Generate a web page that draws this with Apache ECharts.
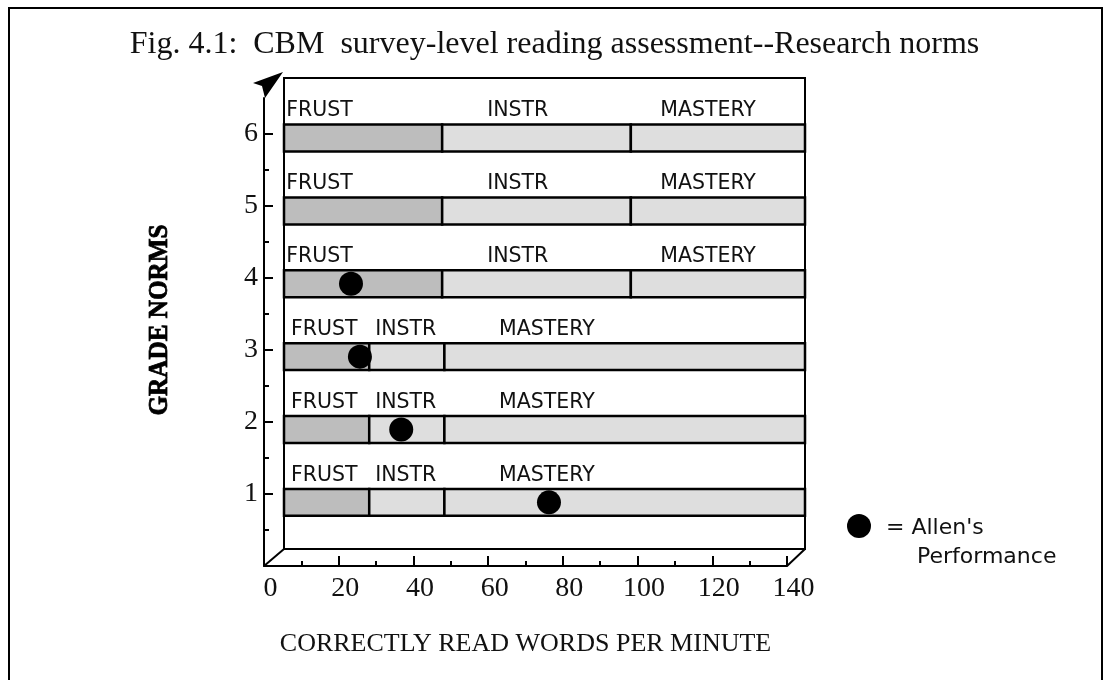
<!DOCTYPE html>
<html>
<head>
<meta charset="utf-8">
<script src="https://cdn.jsdelivr.net/npm/echarts@6/dist/echarts.min.js"></script>
</head>
<body style="margin:0;background:#fff">
<div id="main" style="width:1109px;height:680px;"></div>
<script>
// grade levels (vertical)
var grades = [1, 2, 3, 4, 5, 6];
// words per minute where each band ends
var frustEnd = [22.9, 22.9, 22.9, 42.5, 42.5, 42.5];
var instrEnd = [43.1, 43.1, 43.1, 93.2, 93.2, 93.2];
var wpmMax = 140;
var bandNames = ['FRUST', 'INSTR', 'MASTERY'];
// Allen's performance
var allenGrade = [1, 2, 3, 4];
var allenWpm = [71.2, 31.5, 20.4, 18.0];
var gradeTicks = [1, 2, 3, 4, 5, 6];
var halfTicks = [0.5, 1.5, 2.5, 3.5, 4.5, 5.5];

// layout: where the band names sit (in wpm units), lower grades / upper grades
var labelAnchor = { lower: [1.9, 24.5, 57.8], upper: [0.6, 54.6, 101.1] };
var bandFill = ['#bdbdbd', '#dedede', '#dedede'];
var serif = '"Liberation Serif", serif';
var sans = '"DejaVu Sans", sans-serif';

var chart = echarts.init(document.getElementById('main'));

var barData = grades.map(function (g, i) {
	return [g, frustEnd[i], instrEnd[i], wpmMax];
});
var allenData = allenGrade.map(function (g, i) {
	return [allenWpm[i], g];
});

var option = {
	backgroundColor: '#fff',
	animation: false,
	title: {
		text: 'Fig. 4.1:  CBM  survey-level reading assessment--Research norms',
		left: 'center',
		top: 24,
		textStyle: { fontFamily: serif, fontSize: 32, fontWeight: 'normal', color: '#111' }
	},
	grid: [
		// back plane
		{ left: 284, right: 304, top: 78, bottom: 131, show: true, borderColor: '#000', borderWidth: 2, backgroundColor: '#fff' },
		// front axes
		{ left: 264, right: 322, top: 98, bottom: 114 }
	],
	xAxis: [
		{ gridIndex: 0, type: 'value', min: 0, max: wpmMax, show: false },
		{
			gridIndex: 1, type: 'value', min: 0, max: wpmMax, interval: 20,
			axisLine: { onZero: false, lineStyle: { color: '#000', width: 2 } },
			axisTick: { inside: true, length: 10, lineStyle: { color: '#000', width: 2 } },
			minorTick: { show: true, splitNumber: 2, length: 5, lineStyle: { color: '#000', width: 2 } },
			splitLine: { show: false },
			axisLabel: { margin: 9, padding: [0, 0, 0, 13], fontFamily: serif, fontSize: 28, color: '#111' },
			name: 'CORRECTLY READ WORDS PER MINUTE',
			nameLocation: 'middle',
			nameGap: 65,
			nameTextStyle: { fontFamily: serif, fontSize: 26, color: '#111' }
		}
	],
	yAxis: [
		{ gridIndex: 0, type: 'value', min: 0.36, max: 6.824, show: false },
		{
			gridIndex: 1, type: 'value', min: 0, max: 6.5, position: 'left',
			axisLine: { show: true, onZero: false, lineStyle: { color: '#000', width: 2 } },
			axisTick: { show: true, inside: true, length: 9, customValues: gradeTicks, lineStyle: { color: '#000', width: 2 } },
			axisLabel: { margin: 6, customValues: gradeTicks, fontFamily: serif, fontSize: 28, color: '#111' },
			splitLine: { show: false }
		},
		{
			gridIndex: 1, type: 'value', min: 0, max: 6.5, position: 'left',
			axisLine: { show: false },
			axisTick: { show: true, inside: true, length: 5, customValues: halfTicks, lineStyle: { color: '#000', width: 2 } },
			axisLabel: { show: false },
			splitLine: { show: false }
		}
	],
	series: [
		{
			type: 'custom',
			xAxisIndex: 0,
			yAxisIndex: 0,
			data: barData,
			renderItem: function (params, api) {
				var g = api.value(0);
				var cuts = [0, api.value(1), api.value(2), api.value(3)];
				var h = api.size([0, 0.37])[1];
				var anchors = g <= 3 ? labelAnchor.lower : labelAnchor.upper;
				var children = [];
				for (var i = 0; i < 3; i++) {
					var p0 = api.coord([cuts[i], g]);
					var p1 = api.coord([cuts[i + 1], g]);
					children.push({
						type: 'rect',
						shape: { x: p0[0], y: p0[1] - h / 2, width: p1[0] - p0[0], height: h },
						style: { fill: bandFill[i], stroke: '#000', lineWidth: 2.5 }
					});
					var t = api.coord([anchors[i], g]);
					children.push({
						type: 'text',
						x: t[0],
						y: t[1] - 27,
						style: { text: bandNames[i], font: '20.5px ' + sans, fill: '#111', align: 'left', verticalAlign: 'middle' }
					});
				}
				return { type: 'group', children: children };
			},
			z: 2
		},
		{
			type: 'scatter',
			xAxisIndex: 0,
			yAxisIndex: 0,
			data: allenData,
			symbol: 'circle',
			symbolSize: 24,
			itemStyle: { color: '#000', opacity: 1 },
			z: 5
		}
	],
	graphic: [
		// outer frame
		{ type: 'rect', shape: { x: 9, y: 8, width: 1093, height: 700 }, style: { fill: null, stroke: '#000', lineWidth: 2 }, silent: true },
		// 3d depth edges
		{ type: 'line', shape: { x1: 264, y1: 566, x2: 284, y2: 549 }, style: { stroke: '#000', lineWidth: 2 }, z: 10 },
		{ type: 'line', shape: { x1: 787, y1: 566, x2: 805, y2: 549 }, style: { stroke: '#000', lineWidth: 2 }, z: 10 },
		// arrow head on the vertical axis
		{ type: 'polygon', shape: { points: [[283, 72], [253, 83], [262, 86], [265, 98]] }, style: { fill: '#000' }, z: 10 },
		// vertical axis title
		{
			type: 'text', x: 160, y: 320, rotation: Math.PI / 2, scaleX: 0.9,
			style: { text: 'GRADE NORMS', font: 'bold 28px ' + serif, fill: '#000', align: 'center', verticalAlign: 'middle', stroke: '#000', lineWidth: 0.8 }
		},
		// legend
		{ type: 'circle', shape: { cx: 859, cy: 526, r: 12 }, style: { fill: '#000' } },
		{ type: 'text', x: 886, y: 528, style: { text: "= Allen's", font: '22px ' + sans, fill: '#111', verticalAlign: 'middle' } },
		{ type: 'text', x: 917, y: 557, style: { text: 'Performance', font: '22px ' + sans, fill: '#111', verticalAlign: 'middle' } }
	]
};

chart.setOption(option);
</script>
</body>
</html>
